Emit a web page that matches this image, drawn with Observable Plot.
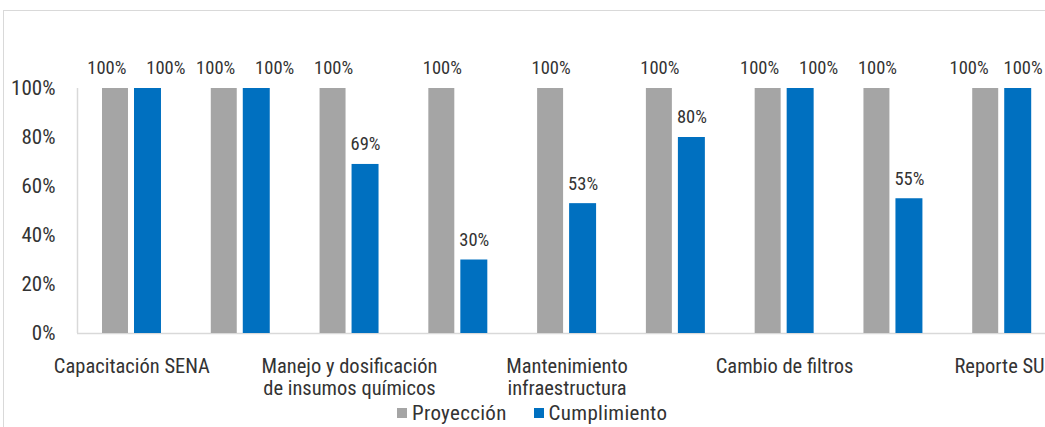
<!DOCTYPE html>
<html>
<head>
<meta charset="utf-8">
<script src="https://cdn.jsdelivr.net/npm/d3@7"></script>
<script src="https://cdn.jsdelivr.net/npm/@observablehq/plot@0.6"></script>
<style>
  html, body { margin: 0; padding: 0; overflow: hidden; background: #fff; width: 1045px; height: 427px; }
  #frame { position: absolute; left: 3px; top: 10px; width: 1100px; height: 500px; border-top: 1px solid #d9d9d9; border-left: 1px solid #d9d9d9; }
  #chart { position: absolute; left: 0; top: 0; width: 1056px; }
  #chart svg { max-width: none !important; }
  #legend { position: absolute; top: 401px; left: 397px; font-family: "Roboto Condensed", Roboto, sans-serif; font-size: 21px; letter-spacing: 0.3px; color: #333; display: flex; align-items: center; white-space: nowrap; }
  #legend .item { display: flex; align-items: center; margin-right: 27px; }
  #legend .sw { width: 10px; height: 10px; margin-right: 5px; }
</style>
</head>
<body>
<div id="frame"></div>
<div id="chart"></div>
<div id="legend"></div>
<script>
// Category order (labels of the even categories are hidden in the reference)
const categories = ["Capacitación SENA", "Actividad 2", "Manejo y dosificación de insumos químicos", "Actividad 4", "Mantenimiento infraestructura", "Actividad 6", "Cambio de filtros", "Actividad 8", "Reporte SUI"];
const tickLabels = ["Capacitación SENA", "", "Manejo y dosificación\nde insumos químicos", "", "Mantenimiento\ninfraestructura", "", "Cambio de filtros", "", "Reporte SUI"];
const series = ["Proyección", "Cumplimiento"];
const proyeccion = [1, 1, 1, 1, 1, 1, 1, 1, 1];
const cumplimiento = [1, 1, 0.69, 0.30, 0.53, 0.80, 1, 0.55, 1];
const yTicks = [0, 0.2, 0.4, 0.6, 0.8, 1];
const colors = ["#A5A5A5", "#0070C0"];

const last = categories.length - 1;
const rows = categories.map((c, i) => ({category: c, i, proy: proyeccion[i], cump: cumplimiento[i], both: proyeccion[i] >= 1 && cumplimiento[i] >= 1}));
const pct = d3.format(".0%");
const font = '"Roboto Condensed", Roboto, sans-serif';
const lbl = {fontSize: 18.5, fill: "#333", dy: -20};

const chart = Plot.plot({
  width: 1056,
  height: 400,
  marginLeft: 77,
  marginRight: 0,
  marginTop: 88,
  marginBottom: 67,
  style: {fontFamily: font, color: "#333", background: "transparent", overflow: "visible", maxWidth: "none"},
  x: {domain: categories, padding: 0, round: false, label: null},
  y: {domain: [0, 1], label: null},
  marks: [
    Plot.ruleY([0], {stroke: "#d9d9d9", strokeWidth: 1.5}),
    Plot.ruleX([categories[0]], {y1: 0, y2: 1, dx: -979 / 18, stroke: "#d9d9d9", strokeWidth: 1.5}),
    Plot.axisY({ticks: yTicks, tickFormat: pct, tickSize: 0, tickPadding: 22, fontSize: 21, fill: "#333", label: null}),
    Plot.axisX({tickSize: 0, tickPadding: 23, fontSize: 20.5, fill: "#333", lineHeight: 1.1, tickFormat: d => tickLabels[categories.indexOf(d)], label: null}),
    Plot.barY(rows, {x: "category", y: "proy", fill: colors[0], insetLeft: 25, insetRight: 57.8}),
    Plot.barY(rows, {x: "category", y: "cump", fill: colors[1], insetLeft: 57, insetRight: 24.8}),
    Plot.text(rows.filter(d => !d.both), {x: "category", y: "proy", text: d => pct(d.proy), dx: -15.9, ...lbl}),
    Plot.text(rows.filter(d => d.both && d.i < last), {x: "category", y: "proy", text: d => pct(d.proy), dx: -25, ...lbl}),
    Plot.text(rows.filter(d => d.both && d.i === last), {x: "category", y: "proy", text: d => pct(d.proy), dx: -33, ...lbl}),
    Plot.text(rows.filter(d => !d.both), {x: "category", y: "cump", text: d => pct(d.cump), dx: 16.1, ...lbl}),
    Plot.text(rows.filter(d => d.both && d.i < last), {x: "category", y: "cump", text: d => pct(d.cump), dx: 34, ...lbl}),
    Plot.text(rows.filter(d => d.both && d.i === last), {x: "category", y: "cump", text: d => pct(d.cump), dx: 21, ...lbl})
  ]
});
document.getElementById("chart").appendChild(chart);

const legend = document.getElementById("legend");
series.forEach((s, i) => {
  const item = document.createElement("div");
  item.className = "item";
  const sw = document.createElement("div");
  sw.className = "sw";
  sw.style.background = colors[i];
  const t = document.createElement("span");
  t.textContent = s;
  item.appendChild(sw);
  item.appendChild(t);
  legend.appendChild(item);
});
</script>
</body>
</html>
